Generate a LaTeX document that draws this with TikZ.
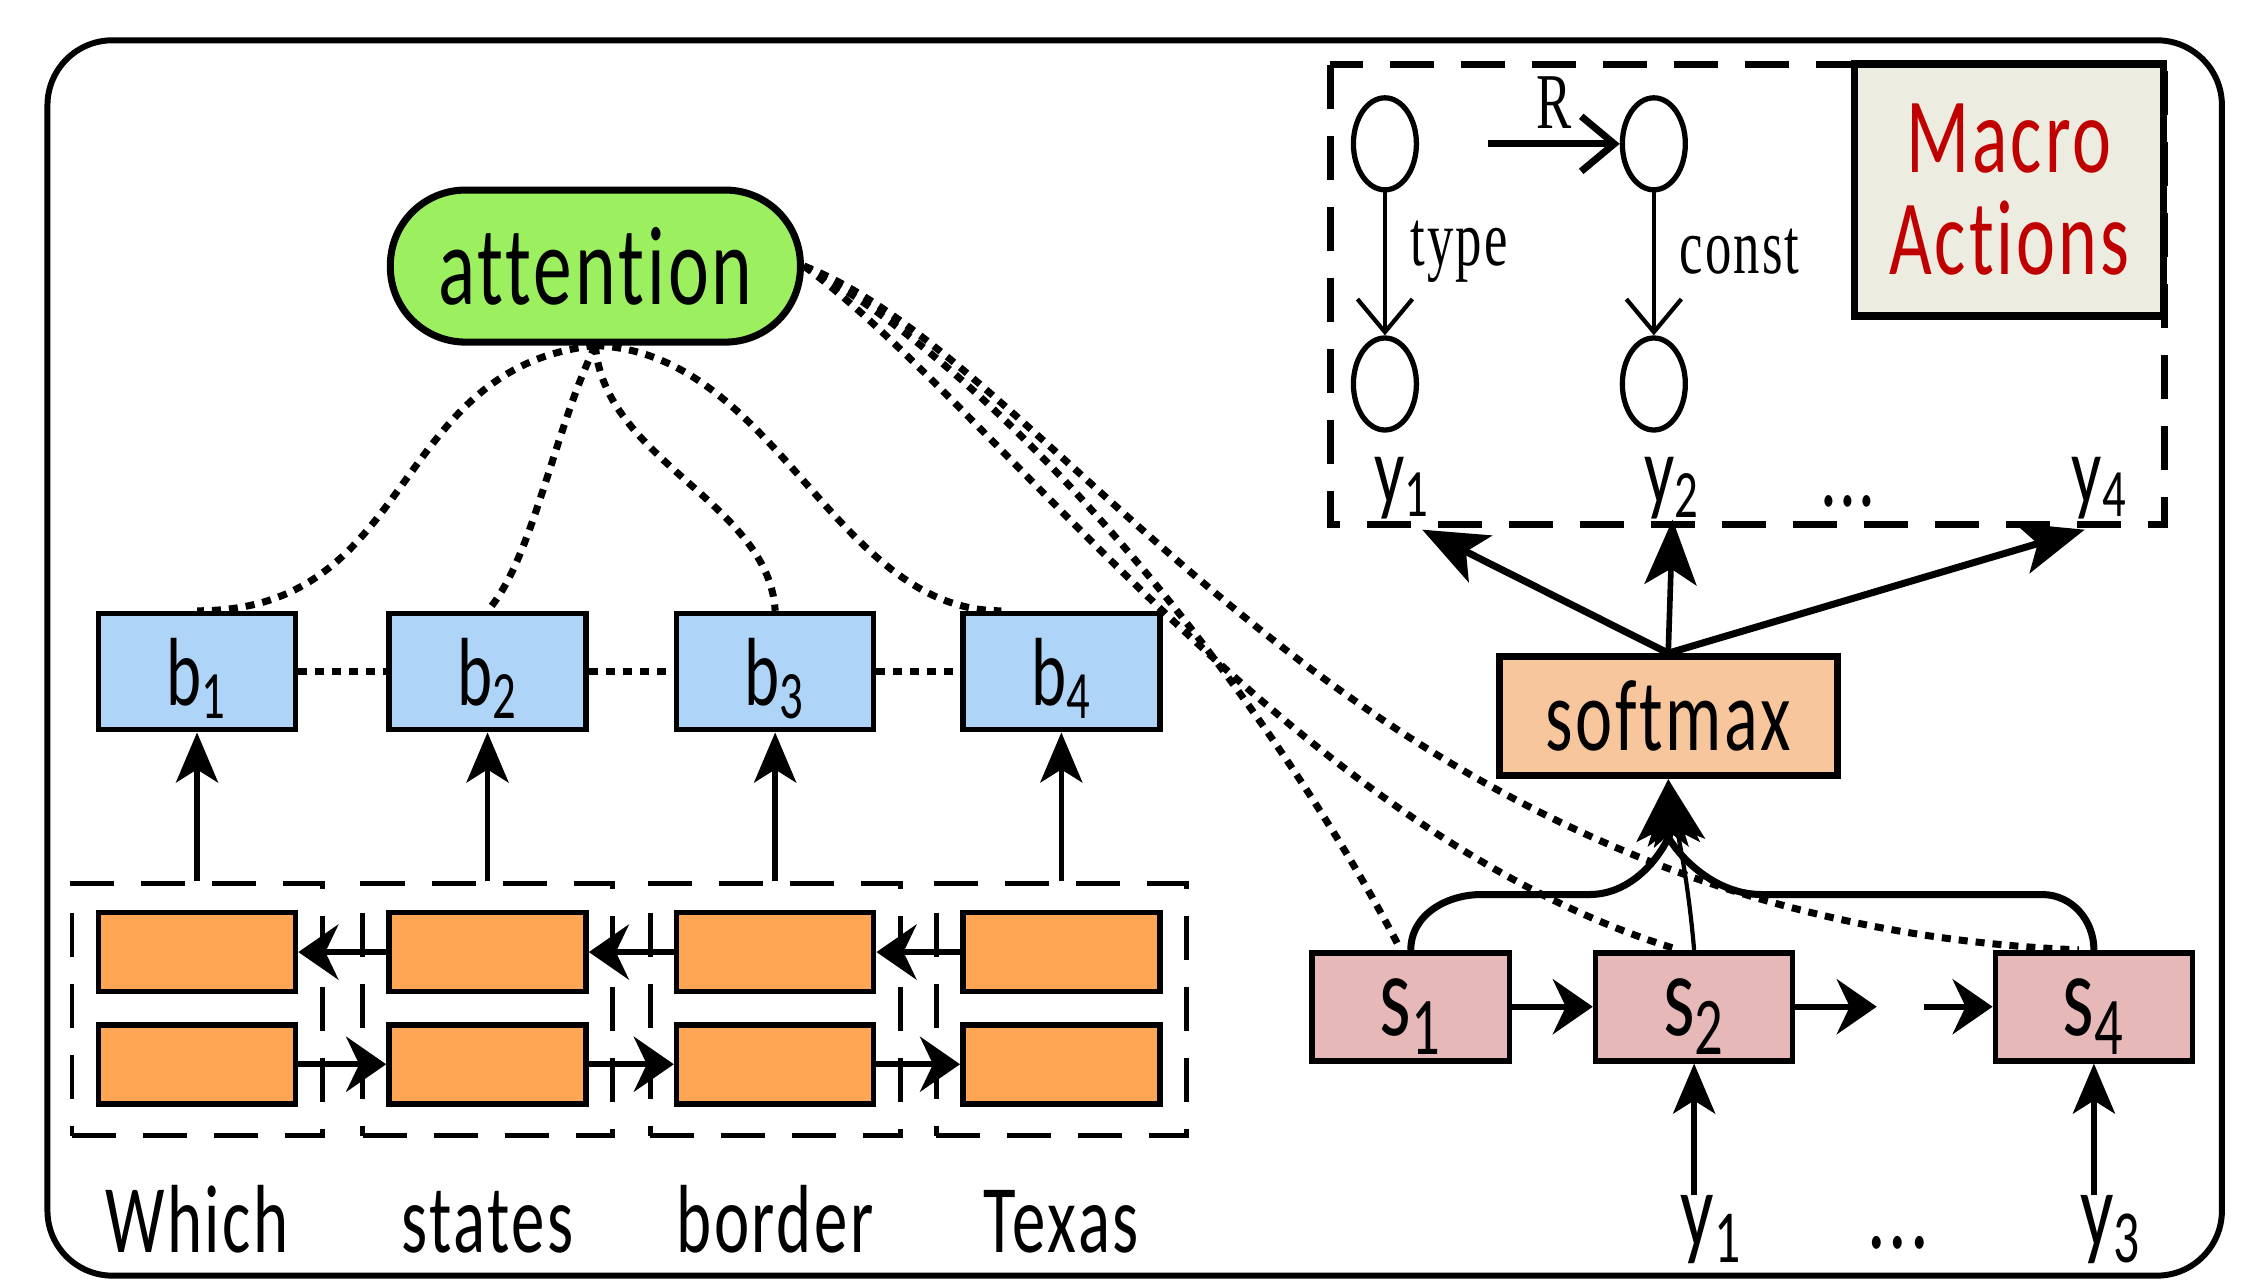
\documentclass[tikz,border=0pt]{standalone}
\usepackage{fontspec}
\setmainfont{Carlito}[LetterSpace=4, Ligatures=NoCommon]
\newfontfamily\relfont{Liberation Serif}[LetterSpace=4, Ligatures=NoCommon]
\usepackage{graphicx}
\usetikzlibrary{arrows.meta,shapes.geometric}

\definecolor{attgreen}{RGB}{156,240,96}
\definecolor{encblue}{RGB}{174,212,247}
\definecolor{cellorange}{RGB}{255,166,84}
\definecolor{softpeach}{RGB}{248,198,156}
\definecolor{decpink}{RGB}{230,185,184}
\definecolor{macrobg}{RGB}{236,236,225}
\definecolor{macrored}{RGB}{192,0,0}

\newcommand{\tall}[1]{\scalebox{1}[1.45]{#1}}

\tikzset{
  unit/.style={draw, line width=1.6pt, inner sep=0pt, minimum width=19.7mm},
  enc/.style={unit, fill=encblue, minimum height=11.6mm,
    font=\fontsize{19}{22}\selectfont, text depth=0pt},
  cell/.style={unit, fill=cellorange, minimum height=7.9mm},
  dec/.style={unit, fill=decpink, minimum height=10.8mm,
    font=\fontsize{23}{26}\selectfont, text depth=0pt},
  group/.style={draw, line width=1.4pt, dash pattern=on 4.4mm off 2.7mm,
    minimum width=25mm, minimum height=25.2mm, inner sep=0pt},
  attbox/.style={draw, line width=2pt, fill=attgreen, rounded corners=7.5mm,
    minimum width=41mm, minimum height=15.2mm, font=\fontsize{22}{26}\selectfont},
  softbox/.style={draw, line width=2pt, fill=softpeach, minimum width=33.8mm,
    minimum height=11.9mm, font=\fontsize{20}{24}\selectfont},
  macro/.style={draw, line width=2.2pt, fill=macrobg, minimum width=30.9mm,
    minimum height=25.2mm, align=center, text=macrored,
    font=\fontsize{21}{29}\selectfont},
  word/.style={anchor=base, inner sep=0pt, font=\fontsize{19}{22}\selectfont},
  ent/.style={draw, ellipse, line width=1.5pt, minimum width=6.3mm,
    minimum height=9.2mm, inner sep=0pt},
  rel/.style={font=\relfont\fontsize{15}{18}\selectfont},
  flow/.style={line width=1.6pt, -{Stealth[length=5mm, width=4.2mm, inset=1.3mm]}},
  sideflow/.style={line width=1.8pt, -{Stealth[length=4mm, width=5.5mm, inset=1.3mm]}},
  bigflow/.style={line width=2pt, -{Stealth[length=6.5mm, width=5.2mm, inset=1.6mm]}},
  link/.style={line width=1.2pt, -{Straight Barb[length=3.3mm, width=5.5mm]}},
  attn/.style={line width=2pt, dash pattern=on 0.9mm off 0.8mm},
}

\begin{document}
\begin{tikzpicture}[x=0.1438mm, y=-0.1438mm]
    \useasboundingbox (0,0) rectangle (1568,891);

    % Outer frame
    \draw[rounded corners=6.5mm, line width=1.7pt]
      (33,28) rectangle (1545,887);

    % Attention
    \node[attbox] (att) at (414,185) {\tall{attention}};

    % Encoder: word groups, LSTM cells and outputs
    \foreach \i/\x/\w in {1/137/Which, 2/339/states, 3/539/border, 4/738/Texas} {
      \node[group] (g\i) at (\x,702) {};
      \node[cell] (bw\i) at (\x,662) {};
      \node[cell] (fw\i) at (\x,740) {};
      \node[enc] (b\i) at (\x,467) {\tall{b\textsubscript{\i}}};
      \node[word] (w\i) at (\x,871) {\tall{\w}};
      \draw[flow] (g\i) -- (b\i);
    }

    \foreach \i/\j in {1/2, 2/3, 3/4} {
      \draw[attn] (b\i) -- (b\j);
      \draw[sideflow] (bw\j) -- (bw\i);
      \draw[sideflow] (fw\i) -- (fw\j);
    }

    % Attention over encoder outputs
    \draw[attn] (att.south) .. controls (270,255) and (290,425) .. (b1.north);
    \draw[attn] (att.south) .. controls (385,300) and (370,390) .. (b2.north);
    \draw[attn] (att.south) .. controls (420,320) and (535,350) .. (b3.north);
    \draw[attn] (att.south) .. controls (540,245) and (580,425) .. ([xshift=-6mm]b4.north);

    % Macro actions
    \draw[line width=2pt, dash pattern=on 4.4mm off 2.7mm]
      (925,45) rectangle (1505,365);
    \node[macro] (mac) at (1397,132) {\tall{Macro}\\\tall{Actions}};

    \node[ent] (e1) at (963,100) {};
    \node[ent] (e2) at (1150,100) {};
    \node[ent] (e3) at (963,267) {};
    \node[ent] (e4) at (1150,267) {};
    \coordinate (rfrom) at (1035,100);
    \draw[link, line width=2pt] (rfrom) -- (e2)
      node[midway, above, rel] {\scalebox{1}[1.5]{R}};
    \draw[link] (e1) -- (e3)
      node[midway, right=1.2mm, yshift=1.2mm, rel] {\scalebox{1}[1.5]{type}};
    \draw[link] (e2) -- (e4)
      node[midway, right=1.2mm, yshift=1.2mm, rel] {\scalebox{1}[1.5]{const}};

    \node[word] (yo1) at (975,350) {\tall{y\textsubscript{1}}};
    \node[word] (yo2) at (1163,350) {\tall{y\textsubscript{2}}};
    \node[word] (yodots) at (1285,352) {\tall{...}};
    \node[word] (yo4) at (1460,350) {\tall{y\textsubscript{4}}};

    % Decoder
    \node[softbox] (sm) at (1160,498) {\tall{softmax}};
    \draw[bigflow] (sm.north) -- ([xshift=2mm,yshift=-1mm]yo1.south);
    \draw[bigflow, line width=1.6pt] (sm.north) -- (yo2.south);
    \draw[bigflow] (sm.north) -- ([xshift=-1.5mm,yshift=-1mm]yo4.south);

    \node[dec] (s1) at (981,700) {\tall{s\textsubscript{1}}};
    \node[dec] (s2) at (1178,700) {\tall{s\textsubscript{2}}};
    \node[dec] (s4) at (1456,700) {\tall{s\textsubscript{4}}};
    \coordinate (gapl) at (1305,700);
    \coordinate (gapr) at (1338,700);
    \draw[sideflow] (s1) -- (s2);
    \draw[sideflow] (s2) -- (gapl);
    \draw[sideflow] (gapr) -- (s4);

    \draw[bigflow] (s1.north) to[out=90, in=180] (1030,622) -- (1105,622)
      to[out=0, in=-85] (sm.south);
    \draw[bigflow, line width=1.2pt] (s2.north) to[out=95, in=-80] (sm.south);
    \draw[bigflow] (s4.north) to[out=90, in=0] (1420,622) -- (1225,622)
      to[out=180, in=-95] (sm.south);

    % Attention over decoder states
    \draw[attn] (att.east) .. controls (700,260) and (880,480) .. ([xshift=-1mm]s1.north);
    \draw[attn] (att.east) .. controls (690,280) and (900,580) .. ([xshift=-1.5mm]s2.north);
    \draw[attn] (att.east) .. controls (740,255) and (940,640) .. ([xshift=-1.5mm]s4.north);

    % Decoder inputs
    \node[word] (yin1) at (1190,867) {\fontsize{21}{24}\selectfont\tall{y\textsubscript{1}}};
    \node[word] (yindots) at (1320,868) {\fontsize{21}{24}\selectfont\tall{...}};
    \node[word] (yin3) at (1468,867) {\fontsize{21}{24}\selectfont\tall{y\textsubscript{3}}};
    \draw[flow] (s2.south |- yin1.north) -- (s2.south);
    \draw[flow] (s4.south |- yin3.north) -- (s4.south);
  \end{tikzpicture}
\end{document}
